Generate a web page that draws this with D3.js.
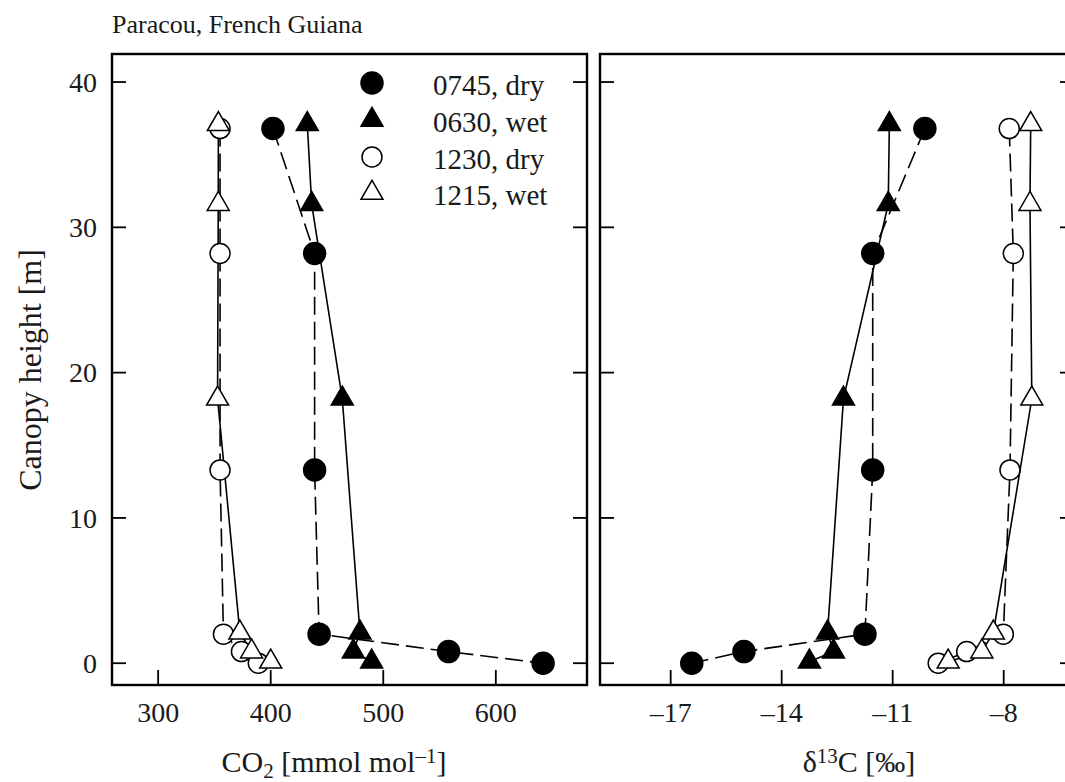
<!DOCTYPE html>
<html><head><meta charset="utf-8">
<script src="https://cdn.jsdelivr.net/npm/d3@7"></script>
<style>body{margin:0;background:#fff}svg{display:block}text{font-family:"Liberation Serif","DejaVu Serif",serif;fill:#1a1a1a}</style>
</head><body><svg id="c" width="1065" height="782"></svg>
<script>
// ---- data ----
const seriesNames = ["0745, dry", "0630, wet", "1230, dry", "1215, wet"];
const heightsDry = [36.8, 28.2, 13.3, 2.0, 0.8, 0];
const heightsWet = [37.1, 31.6, 18.2, 2.1, 0.8, 0.1];
const co2_0745dry = [402, 439, 439, 443, 558, 642];
const co2_0630wet = [432.5, 436.4, 463.6, 479.3, 473.4, 489.7];
const co2_1230dry = [355, 355, 355, 358, 374, 389];
const co2_1215wet = [353.5, 353.4, 352.8, 372.6, 383, 400];
const d13c_0745dry = [-10.13, -11.54, -11.54, -11.75, -15.02, -16.43];
const d13c_0630wet = [-11.09, -11.12, -12.33, -12.76, -12.60, -13.25];
const d13c_1230dry = [-7.85, -7.74, -7.83, -8.01, -9.0, -9.77];
const d13c_1215wet = [-7.27, -7.29, -7.24, -8.28, -8.59, -9.5];
const yTicks = [0, 10, 20, 30, 40];
const co2Ticks = [300, 400, 500, 600];
const d13cTicks = [-17, -14, -11, -8];

(function () {
const svg = d3.select("#c");
svg.append("rect").attr("width",1065).attr("height",782).attr("fill","#fff");

const plotTop = 54, plotBottom = 685;
const y = d3.scaleLinear().domain([-1.5, 41.93]).range([plotBottom, plotTop]);
const xL = d3.scaleLinear().domain([259, 681]).range([112, 587]);
const xR = d3.scaleLinear().domain([-18.91, -6.1]).range([600, 1074]);

const styles = [
  {shape:"circle", fill:"#000", dash:"18,7"},
  {shape:"triangle", fill:"#000", dash:null},
  {shape:"circle", fill:"#fff", dash:"18,7"},
  {shape:"triangle", fill:"#fff", dash:null}
];
const heightsFor = [heightsDry, heightsWet, heightsDry, heightsWet];

function marker(g, st, cx, cy) {
  if (st.shape === "circle") {
    g.append("circle").attr("cx",cx).attr("cy",cy)
      .attr("r", st.fill === "#000" ? 11 : 10)
      .attr("fill", st.fill).attr("stroke","#000").attr("stroke-width",1.5);
  } else {
    const w = 11, h = 19;
    g.append("path")
      .attr("d", `M${cx},${cy - h*2/3}L${cx + w},${cy + h/3}L${cx - w},${cy + h/3}Z`)
      .attr("fill", st.fill).attr("stroke","#000").attr("stroke-width",1.5);
  }
}

function panel(x, seriesList, ticks, fmt) {
  const g = svg.append("g");
  const [x0, x1] = x.range();
  yTicks.forEach(t => {
    g.append("line").attr("x1",x0).attr("x2",x0+14).attr("y1",y(t)).attr("y2",y(t)).attr("stroke","#000").attr("stroke-width",1.8);
    g.append("line").attr("x1",x1-14).attr("x2",x1).attr("y1",y(t)).attr("y2",y(t)).attr("stroke","#000").attr("stroke-width",1.8);
  });
  ticks.forEach(t => {
    g.append("line").attr("x1",x(t)).attr("x2",x(t)).attr("y1",plotBottom).attr("y2",plotBottom-15).attr("stroke","#000").attr("stroke-width",1.8);
    g.append("text").attr("x",x(t)).attr("y",722).attr("text-anchor","middle").attr("font-size",28).text(fmt(t));
  });
  seriesList.forEach((vals, i) => {
    const st = styles[i];
    const pts = vals.map((v, k) => [x(v), y(heightsFor[i][k])]);
    g.append("path").attr("d", d3.line()(pts)).attr("fill","none").attr("stroke","#000")
      .attr("stroke-width",1.6).attr("stroke-dasharray", st.dash);
  });
  seriesList.forEach((vals, i) => {
    vals.forEach((v, k) => marker(g, styles[i], x(v), y(heightsFor[i][k])));
  });
  g.append("rect").attr("x",x0).attr("y",plotTop).attr("width",x1-x0).attr("height",plotBottom-plotTop)
    .attr("fill","none").attr("stroke","#000").attr("stroke-width",2.4);
}

panel(xL, [co2_0745dry, co2_0630wet, co2_1230dry, co2_1215wet], co2Ticks, d => String(d));
panel(xR, [d13c_0745dry, d13c_0630wet, d13c_1230dry, d13c_1215wet], d13cTicks, d => d < 0 ? "\u2013" + Math.abs(d) : String(d));

yTicks.forEach(t => {
  svg.append("text").attr("x",97).attr("y",y(t)).attr("dy","0.35em").attr("text-anchor","end").attr("font-size",28).text(t);
});

const legY = [83, 120, 157, 193];
seriesNames.forEach((n, i) => {
  const lg = svg.append("g");
  marker(lg, styles[i], 372, legY[i]);
  svg.append("text").attr("x",433).attr("y",legY[i]+12).attr("font-size",29).text(n);
});

svg.append("text").attr("x",112).attr("y",33).attr("font-size",26).text("Paracou, French Guiana");

const t1 = svg.append("text").attr("x",334).attr("y",772).attr("text-anchor","middle").attr("font-size",30);
t1.append("tspan").text("CO");
t1.append("tspan").attr("font-size",21).attr("dy",6).text("2");
t1.append("tspan").attr("dy",-6).text(" [mmol mol");
t1.append("tspan").attr("font-size",21).attr("dy",-9).text("\u20131");
t1.append("tspan").attr("dy",9).text("]");

const t2 = svg.append("text").attr("x",859).attr("y",772).attr("text-anchor","middle").attr("font-size",30);
t2.append("tspan").text("\u03b4");
t2.append("tspan").attr("font-size",21).attr("dy",-9).text("13");
t2.append("tspan").attr("dy",9).text("C [\u2030]");

svg.append("text").attr("transform","translate(41,370) rotate(-90)").attr("text-anchor","middle")
  .attr("font-size",32).text("Canopy height [m]");
})();
</script></body></html>
